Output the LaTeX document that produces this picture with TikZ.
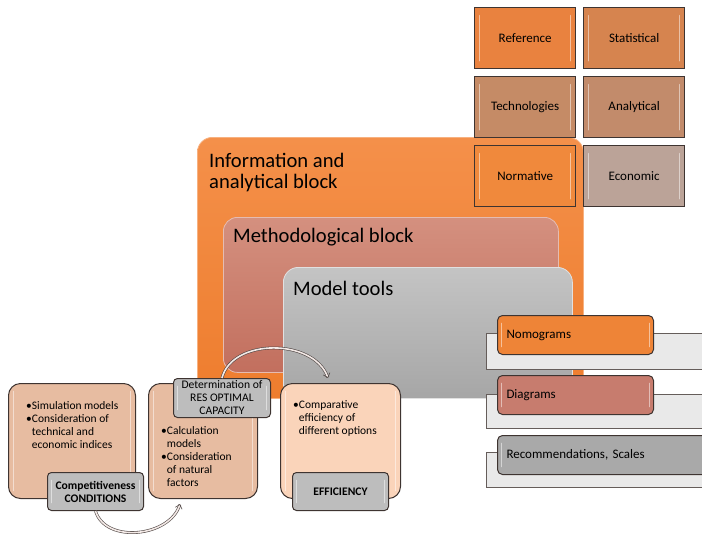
\documentclass[tikz,border=0pt]{standalone}
\usepackage{fontspec}
\setmainfont{Carlito}
\usepackage{tikz}
\usetikzlibrary{arrows.meta}
\usetikzlibrary{positioning}

\definecolor{infotop}{HTML}{F4904A}
\definecolor{infobot}{HTML}{EE7D2E}
\definecolor{methtop}{HTML}{D4907F}
\definecolor{methbot}{HTML}{C26F5E}
\definecolor{modeltop}{HTML}{C4C4C4}
\definecolor{modelbot}{HTML}{A6A6A6}
\definecolor{edge}{HTML}{3E3431}
\definecolor{peach}{HTML}{E7BCA1}
\definecolor{lightpeach}{HTML}{FAD4BA}
\definecolor{taggray}{HTML}{BDBDBD}
\definecolor{shelfgray}{HTML}{E9E9E9}
\definecolor{refcol}{HTML}{E9823F}
\definecolor{statcol}{HTML}{D6844F}
\definecolor{techcol}{HTML}{C58B66}
\definecolor{anacol}{HTML}{C28B6B}
\definecolor{normcol}{HTML}{F0893C}
\definecolor{ecocol}{HTML}{BBA398}
\definecolor{nomocol}{HTML}{EE8437}
\definecolor{diagcol}{HTML}{C77C6E}
\definecolor{reccol}{HTML}{A9A9A9}
\definecolor{arrowfill}{HTML}{F3E9E6}

\begin{document}
\begin{tikzpicture}[x=1pt, y=-1pt,
  block/.style={anchor=north west, inner sep=0pt, rounded corners=15pt, line width=0.8pt},
  title/.style={anchor=west, inner sep=0pt, align=left, font=\fontsize{20.6}{21.5}\selectfont},
  gloss/.style={path picture={
    \draw[white, opacity=0.5, line width=1.6pt, line cap=round]
      ([xshift=#1, yshift=-8pt]path picture bounding box.north west) -- ([xshift=#1, yshift=8pt]path picture bounding box.south west)
      ([xshift=-#1, yshift=-8pt]path picture bounding box.north east) -- ([xshift=-#1, yshift=8pt]path picture bounding box.south east);}},
  gloss/.default=5pt,
  cell/.style={anchor=north west, draw=edge, line width=1.3pt, minimum width=101pt, minimum height=61pt,
    inner sep=2pt, font=\fontsize{13}{14}\selectfont, gloss},
  shelf/.style={anchor=north west, draw=edge!80, fill=shelfgray, line width=0.8pt, minimum width=230pt, inner sep=0pt},
  item/.style={anchor=north west, draw=edge, line width=1pt, rounded corners=5pt, minimum height=39pt,
    inner xsep=9pt, align=left, font=\fontsize{13}{14}\selectfont, gloss=4pt},
  panel/.style={anchor=north west, draw=edge, line width=1pt, rounded corners=12pt, inner sep=0pt, gloss},
  tag/.style={anchor=north west, draw=edge, fill=taggray, line width=1pt, rounded corners=4pt, align=center,
    inner sep=0pt, font=\fontsize{11.6}{13}\selectfont, gloss=4pt},
  bullets/.style={anchor=west, inner sep=0pt, align=left, font=\fontsize{11.5}{13}\selectfont},
  flow/.style={draw=edge!90, line width=0.6pt, double=arrowfill, double distance=1.6pt,
    -{Straight Barb[length=4pt, width=7pt]}}]
  \useasboundingbox (0,0) rectangle (702,536);

  % Nested blocks
  \node[block, draw=infotop!70!white, top color=infotop, bottom color=infobot,
    minimum width=386pt, minimum height=261pt] (info) at (197,137) {};
  \node[block, draw=methtop!60!white, top color=methtop, bottom color=methbot, rounded corners=14pt,
    minimum width=335pt, minimum height=155pt] (meth) at (223,217) {};
  \node[block, draw=modeltop!50!white, top color=modeltop, bottom color=modelbot,
    minimum width=289pt, minimum height=131pt] (model) at (283,267) {};
  \node[title] (infotitle) at (209,172.5) {Information and\\analytical block};
  \node[title] (methtitle) at (233,237) {Methodological block};
  \node[title] (modeltitle) at (293,288) {Model tools};

  % Information sources
  \node[cell, fill=refcol] (reference) at (474,7) {Reference};
  \node[cell, fill=statcol] (statistical) at (583,7) {Statistical};
  \node[cell, fill=techcol] (technologies) at (474,76) {Technologies};
  \node[cell, fill=anacol] (analytical) at (583,76) {Analytical};
  \node[cell, fill=normcol] (normative) at (474,145) {Normative};
  \node[cell, fill=ecocol] (economic) at (583,145) {Economic};

  % Results
  \node[shelf, minimum height=36pt] (nomoshelf) at (486,333) {};
  \node[shelf, minimum height=34pt] (diagshelf) at (486,394) {};
  \node[shelf, minimum height=35pt] (recshelf) at (486,452) {};
  \node[item, fill=nomocol, text width=138pt] (nomograms) at (497,315) {Nomograms};
  \node[item, fill=diagcol, text width=138pt] (diagrams) at (497,375) {Diagrams};
  \node[item, fill=reccol, text width=195pt] (recommendations) at (497,435) {Recommendations, Scales};

  % Stages
  \node[panel, fill=peach, minimum width=127pt, minimum height=115pt] (simulation) at (8,383) {};
  \node[panel, fill=peach, minimum width=109pt, minimum height=115pt] (calculation) at (148,383) {};
  \node[panel, fill=lightpeach, minimum width=120pt, minimum height=115pt] (comparison) at (280,383) {};
  \node[bullets] (simtext) at (26,425.5)
    {•Simulation models\\•Consideration of\\\hphantom{•}technical and\\\hphantom{•}economic indices};
  \node[bullets] (calctext) at (161,456.5)
    {•Calculation\\\hphantom{•}models\\•Consideration\\\hphantom{•}of natural\\\hphantom{•}factors};
  \node[bullets] (comptext) at (293,418)
    {•Comparative\\\hphantom{•}efficiency of\\\hphantom{•}different options};
  \node[tag, minimum width=96pt, minimum height=38pt, font=\bfseries\fontsize{11.6}{13}\selectfont]
    (conditions) at (47,472) {Competitiveness\\CONDITIONS};
  \node[tag, minimum width=97pt, minimum height=39pt] (determination) at (173,378)
    {Determination of\\RES OPTIMAL\\CAPACITY};
  \node[tag, minimum width=96pt, minimum height=38pt, font=\bfseries\fontsize{11.6}{13}\selectfont]
    (efficiency) at (292,472) {EFFICIENCY};

  % Transitions
  \coordinate (calcentry) at (180,504);
  \coordinate (compentry) at (328,378);
  \draw[flow] (conditions.south) .. controls +(10,33) and +(-10,33) .. (calcentry);
  \draw[flow] (determination.north) .. controls +(10,-40) and +(-14,-40) .. (compentry);
\end{tikzpicture}
\end{document}
